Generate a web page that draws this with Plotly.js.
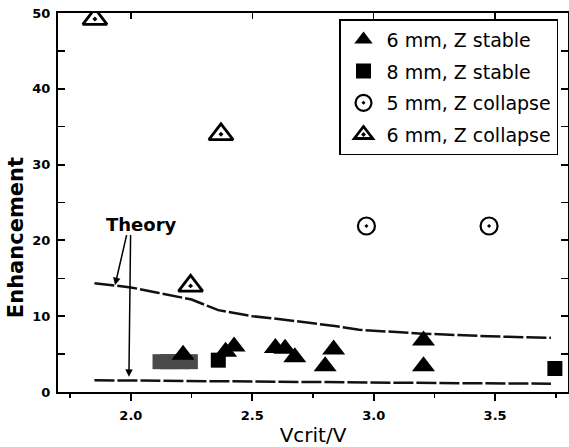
<!DOCTYPE html>
<html><head><meta charset="utf-8">
<script src="https://cdn.plot.ly/plotly-3.0.1.min.js"></script>
<style>html,body{margin:0;padding:0;background:#fff;}#chart{width:569px;height:447px;}</style>
</head><body><div id="chart"></div>
<script>
// Data
const stable6X = [2.215, 2.39, 2.425, 2.595, 2.635, 2.675, 2.80, 2.835, 3.205, 3.205];
const stable6Y = [4.9, 5.3, 6.0, 5.8, 5.7, 4.6, 3.4, 5.6, 6.8, 3.4];
const stable8X = [2.36, 3.746];
const stable8Y = [4.2, 3.1];
const hatchX = [2.12, 2.15, 2.18, 2.21, 2.245];
const hatchY = [4.0, 4.0, 4.0, 4.0, 4.0];
const collapse5X = [2.97, 3.475];
const collapse5Y = [21.9, 21.9];
const collapse6X = [1.852, 2.371, 2.246];
const collapse6Y = [49.2, 34.0, 14.0];
const theoryHiX = [1.85, 2.0, 2.11, 2.25, 2.36, 2.5, 2.59, 2.84, 2.94, 3.2, 3.47, 3.73];
const theoryHiY = [14.35, 13.8, 13.1, 12.2, 10.8, 10.0, 9.7, 8.7, 8.2, 7.7, 7.35, 7.15];
const theoryLoX = [1.85, 2.2, 2.6, 3.0, 3.4, 3.73];
const theoryLoY = [1.55, 1.45, 1.3, 1.2, 1.15, 1.1];
const xTicks = [2.0, 2.5, 3.0, 3.5];
const xTickText = ['2.0', '2.5', '3.0', '3.5'];
const yTicks = [0, 10, 20, 30, 40, 50];

const F = 'DejaVu Sans, Arial, sans-serif';
const lineStyle = {color: '#111', width: 2.5, dash: '20px,3px'};

const traces = [
  {x: theoryHiX, y: theoryHiY, mode: 'lines', line: lineStyle, showlegend: false, hoverinfo: 'skip'},
  {x: theoryLoX, y: theoryLoY, mode: 'lines', line: lineStyle, showlegend: false, hoverinfo: 'skip'},
  {x: hatchX, y: hatchY, mode: 'markers', showlegend: false,
   marker: {symbol: 'square', size: 15, color: '#4a4a4a', line: {width: 0}}},
  {x: stable6X, y: stable6Y, mode: 'markers', name: '6 mm, Z stable', legendgroup: 'a',
   marker: {symbol: 'triangle-up', size: 20, color: '#000', line: {width: 0}}},
  {x: stable8X, y: stable8Y, mode: 'markers', name: '8 mm, Z stable', legendgroup: 'b',
   marker: {symbol: 'square', size: 15, color: '#000', line: {width: 0}}},
  {x: collapse5X, y: collapse5Y, mode: 'markers', name: '5 mm, Z collapse', legendgroup: 'c',
   marker: {symbol: 'circle-open-dot', size: 17, color: '#000', line: {width: 2.2, color: '#000'}}},
  {x: collapse6X, y: collapse6Y, mode: 'markers', name: '6 mm, Z collapse', legendgroup: 'd',
   marker: {symbol: 'triangle-up-open-dot', size: 21, color: '#000', line: {width: 2.8, color: '#000'}}},
  {x: [], y: [], xaxis: 'x2', showlegend: false, hoverinfo: 'skip'}
];

const layout = {
  width: 569, height: 447,
  margin: {l: 58, r: 1, t: 13, b: 55},
  paper_bgcolor: '#fff', plot_bgcolor: '#fff',
  font: {family: F, color: '#000'},
  showlegend: true,
  legend: {x: 0.551, y: 0.984, xanchor: 'left', yanchor: 'top',
    bgcolor: '#fff', bordercolor: '#000', borderwidth: 1.5,
    font: {family: F, size: 19, color: '#000'}, itemwidth: 36, tracegroupgap: 4},
  xaxis: {range: [1.7, 3.8], tickvals: xTicks, ticktext: xTickText,
    ticks: 'outside', ticklen: 7, tickwidth: 2, tickcolor: '#000',
    minor: {dtick: 0.25, ticks: 'outside', ticklen: 4, tickwidth: 1.5, tickcolor: '#000'},
    showline: true, linewidth: 2, linecolor: '#000', mirror: true,
    showgrid: false, zeroline: false, ticklabelstandoff: 3,
    tickfont: {family: F, size: 13, color: '#000', weight: 'bold'},
    title: {text: 'Vcrit/V', font: {family: F, size: 20, color: '#000'}, standoff: 6}},
  xaxis2: {range: [1.7, 3.8], overlaying: 'x', side: 'top', anchor: 'y',
    tickvals: xTicks, ticks: 'inside', ticklen: 6, tickwidth: 1.5, tickcolor: '#000',
    showticklabels: false, showline: false, showgrid: false, zeroline: false},
  yaxis: {range: [0, 50], tickvals: yTicks,
    ticks: 'inside', ticklen: 7, tickwidth: 2, tickcolor: '#000',
    minor: {dtick: 5, ticks: 'inside', ticklen: 4, tickwidth: 1.5, tickcolor: '#000'},
    showline: true, linewidth: 2, linecolor: '#000', mirror: 'allticks',
    showgrid: false, zeroline: false, ticklabelstandoff: 3,
    tickfont: {family: F, size: 13, color: '#000', weight: 'bold'}},
  annotations: [
    {x: 0, y: 0.406, xref: 'paper', yref: 'paper', xanchor: 'center', yanchor: 'middle',
     xshift: -42, textangle: -90, text: 'Enhancement', showarrow: false,
     font: {family: F, size: 21, color: '#000', weight: 'bold'}},
    {x: 2.045, y: 22.1, xref: 'x', yref: 'y', text: 'Theory', showarrow: false,
     font: {family: F, size: 18, color: '#000', weight: 'bold'}},
    {x: 1.935, y: 14.1, ax: 1.984, ay: 20.9, xref: 'x', yref: 'y', axref: 'x', ayref: 'y',
     text: '', showarrow: true, arrowhead: 2, arrowsize: 1, arrowwidth: 1.5, arrowcolor: '#000'},
    {x: 1.992, y: 2.0, ax: 1.999, ay: 20.9, xref: 'x', yref: 'y', axref: 'x', ayref: 'y',
     text: '', showarrow: true, arrowhead: 2, arrowsize: 1, arrowwidth: 1.5, arrowcolor: '#000'}
  ]
};

Plotly.newPlot('chart', traces, layout, {displayModeBar: false, staticPlot: true});
</script></body></html>
